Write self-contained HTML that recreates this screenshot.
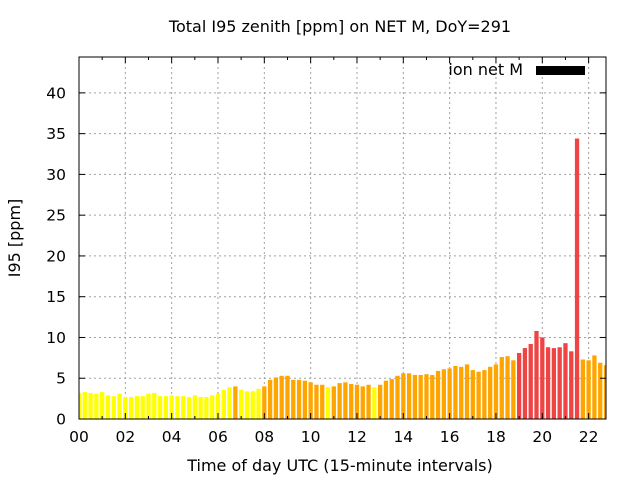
<!DOCTYPE html>
<html><head><meta charset="utf-8"><style>
body{margin:0;background:#fff}
svg{display:block;font-family:"DejaVu Sans","Liberation Sans",sans-serif}
</style></head><body>
<svg id="chart" width="640" height="480" viewBox="0 0 640 480">
<text x="340" y="32" font-size="16" text-anchor="middle">Total I95 zenith [ppm] on NET M, DoY=291</text>
<g id="grid"></g>
<g id="bars"></g>
<g id="axes"></g>
<text x="340" y="471" font-size="16" text-anchor="middle">Time of day UTC (15-minute intervals)</text>
<text transform="translate(20,238) rotate(-90)" font-size="16" text-anchor="middle">I95 [ppm]</text>
<g>
<text x="523" y="75" font-size="16" text-anchor="end">ion net M</text>
<rect x="536" y="66" width="49" height="9" fill="#000"></rect>
</g>
</svg>
<script>
const values = [3.2,3.3,3.2,3.1,3.3,2.9,2.8,3.1,2.7,2.7,2.8,2.8,3.1,3.2,2.8,2.8,2.9,2.8,2.8,2.7,2.9,2.7,2.7,2.9,3.1,3.6,3.9,4.0,3.6,3.4,3.4,3.7,4.0,4.8,5.1,5.3,5.3,4.8,4.8,4.7,4.5,4.2,4.2,3.9,4.0,4.4,4.5,4.3,4.2,4.0,4.2,3.9,4.2,4.7,4.9,5.3,5.6,5.6,5.4,5.4,5.5,5.4,5.9,6.1,6.2,6.5,6.4,6.7,6.0,5.8,6.0,6.4,6.7,7.6,7.7,7.2,8.1,8.7,9.2,10.8,10.0,8.8,8.7,8.8,9.3,8.3,34.4,7.3,7.2,7.8,6.9,6.6];
const yTicks = [0,5,10,15,20,25,30,35,40];
const xTickLabels = ["00","02","04","06","08","10","12","14","16","18","20","22"];
const xTickHours = [0,2,4,6,8,10,12,14,16,18,20,22];
const NS="http://www.w3.org/2000/svg";
const L=79,R=606,T=57,B=419,XMAX=22.75,YMAX=44.4;
const xs=h=>L+(h/XMAX)*(R-L);
const ys=v=>B-(v/YMAX)*(B-T);
function mk(tag,attrs,parent){const e=document.createElementNS(NS,tag);for(const k in attrs)e.setAttribute(k,attrs[k]);parent.appendChild(e);return e;}
const grid=document.getElementById('grid'),bars=document.getElementById('bars'),axes=document.getElementById('axes');
const defs=mk('defs',{},document.getElementById('chart'));
const cp=mk('clipPath',{id:'clip'},defs);mk('rect',{x:L,y:T,width:R-L,height:B-T},cp);
bars.setAttribute('clip-path','url(#clip)');
yTicks.forEach(v=>{
  if(v>0){const g=mk('line',{x1:L,x2:R,y1:ys(v),y2:ys(v),stroke:'#a0a0a0','stroke-dasharray':'2,3','stroke-width':1},grid);
  
  }
  const t=mk('text',{x:L-13,y:ys(v)+5.5,'font-size':15.5,'text-anchor':'end'},axes);t.textContent=v;
  
  
  mk('line',{x1:L,x2:L+6,y1:ys(v),y2:ys(v),stroke:'#000'},axes);
  mk('line',{x1:R,x2:R-6,y1:ys(v),y2:ys(v),stroke:'#000'},axes);
});
xTickHours.forEach((h,i)=>{
  if(h>0){const g=mk('line',{x1:xs(h),x2:xs(h),y1:T,y2:B,stroke:'#a0a0a0','stroke-dasharray':'2,3','stroke-width':1},grid);
  
  }
  const t=mk('text',{x:xs(h),y:B+23,'font-size':15.5,'text-anchor':'middle'},axes);t.textContent=xTickLabels[i];
  
  
});
for(let h=0;h<=22;h++){const len=h%2?3:6;
  mk('line',{x1:xs(h),x2:xs(h),y1:B,y2:B-len,stroke:'#000'},axes);
  mk('line',{x1:xs(h),x2:xs(h),y1:T,y2:T+len,stroke:'#000'},axes);}
const bw=(R-L)/(XMAX*4)*0.74;
values.forEach((v,i)=>{
  const c=v<4?'#ffff00':(v<8?'#ffa500':'#ef4444');
  const r=mk('rect',{x:xs(i/4)-bw/2,y:ys(v),width:bw,height:B-ys(v),fill:c},bars);
  
  
});
const f=mk('rect',{x:L,y:T,width:R-L,height:B-T,fill:'none',stroke:'#000','stroke-width':1},axes);


</script>
</body></html>
